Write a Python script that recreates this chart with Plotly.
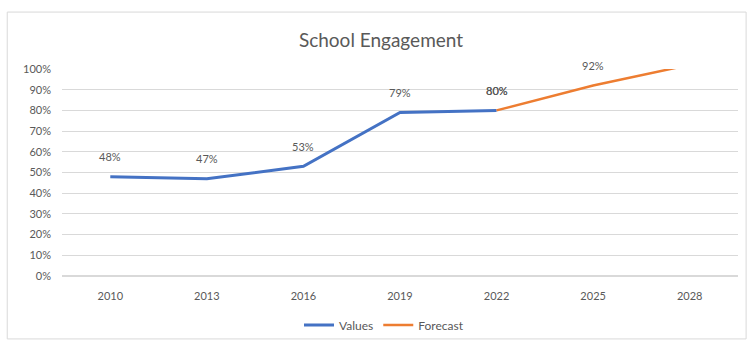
import plotly.graph_objects as go

# chart data
years = ["2010", "2013", "2016", "2019", "2022", "2025", "2028"]
values = [48, 47, 53, 79, 80, None, None]
forecast = [None, None, None, None, 80, 92, 102]
forecast_labels = [None, None, None, None, "80%", "92%", None]

blue = "#4472C4"
orange = "#ED7D31"
grey_text = "#595959"
font_family = "Lato, Open Sans, sans-serif"

W, H = 752, 343

trace1 = go.Scatter(
    x=years,
    y=values,
    name="Values",
    mode="lines",
    line=dict(color=blue, width=3),
)
trace2 = go.Scatter(
    x=years,
    y=forecast,
    name="Forecast",
    mode="lines",
    line=dict(color=orange, width=2.5),
)

fig = go.Figure(data=[trace1, trace2])

# data labels sitting above the points (category axis -> use the index)
annotations = []
for i, v in enumerate(values):
    if v is not None:
        annotations.append(dict(x=i, y=v, text=f"{v}%", showarrow=False,
                                yshift=20, font=dict(size=11, color=grey_text)))
for i, (v, lab) in enumerate(zip(forecast, forecast_labels)):
    if lab is not None:
        annotations.append(dict(x=i, y=v, text=lab, showarrow=False,
                                yshift=20, font=dict(size=11, color=grey_text)))

fig.update_layout(
    width=W,
    height=H,
    paper_bgcolor="white",
    plot_bgcolor="white",
    font=dict(family=font_family, size=11, color=grey_text),
    margin=dict(l=62, r=14, t=69, b=67),
    title=dict(
        text="School Engagement",
        x=381 / W,
        xanchor="center",
        y=1 - 40 / H,
        yanchor="middle",
        font=dict(size=19, color=grey_text, family=font_family),
    ),
    showlegend=True,
    legend=dict(
        orientation="h",
        xref="container",
        yref="container",
        x=384 / W,
        xanchor="center",
        y=1 - 325 / H,
        yanchor="middle",
        bgcolor="rgba(0,0,0,0)",
        font=dict(size=12, color=grey_text),
        itemwidth=30,
    ),
    annotations=annotations,
    shapes=[
        dict(type="rect", xref="paper", yref="paper",
             x0=-0.081, x1=1.012, y0=-0.304, y1=1.275,
             line=dict(color="#D9D9D9", width=1), layer="below"),
    ],
)

fig.update_xaxes(
    type="category",
    range=[-0.5, len(years) - 0.5],
    automargin=False,
    showgrid=False,
    showline=False,
    ticks="",
    ticklabelstandoff=12,
    tickfont=dict(size=11, color=grey_text),
)
fig.update_yaxes(
    range=[0, 100],
    dtick=10,
    ticksuffix="%",
    automargin=False,
    showgrid=True,
    gridcolor="#D9D9D9",
    gridwidth=1,
    zeroline=True,
    zerolinecolor="#D9D9D9",
    ticks="",
    ticklabelstandoff=10,
    tickfont=dict(size=11, color=grey_text),
)

# drop the default page margin so the chart sits at the window corner
fig.write_html(
    "out.html",
    config={"displayModeBar": False},
    post_script="document.body.style.margin='0';",
)
